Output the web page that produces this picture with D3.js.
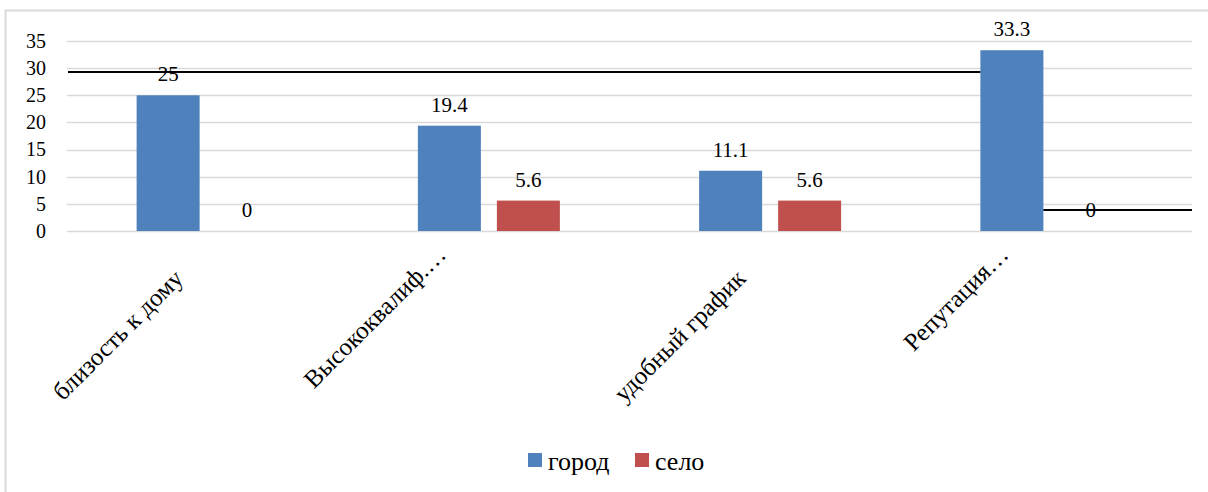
<!DOCTYPE html>
<html>
<head>
<meta charset="utf-8">
<script src="https://cdn.jsdelivr.net/npm/d3@7"></script>
<style>
  html, body { margin: 0; padding: 0; background: #fff; }
  svg { display: block; }
  svg text { font-family: "Liberation Serif", "Times New Roman", serif; fill: #000; }
</style>
</head>
<body>
<svg id="chart" width="1208" height="492"></svg>
<script>
// Categories and series values
const categories = ["близость к дому", "Высококвалиф.…", "удобный график", "Репутация…"];
const seriesNames = ["город", "село"];
const gorod = [25, 19.4, 11.1, 33.3];
const selo = [0, 5.6, 5.6, 0];
const yTicks = [0, 5, 10, 15, 20, 25, 30, 35];
const seriesColors = ["#4F81BD", "#C0504D"];

// Two stray horizontal strokes drawn across the plot (value level)
const strokeLevels = [29.3, 3.85];

const svg = d3.select("#chart");
const serif = "'Liberation Serif','Times New Roman',serif";

// outer chart frame
svg.append("rect")
  .attr("x", 5.5).attr("y", 10.5)
  .attr("width", 1220).attr("height", 500)
  .attr("fill", "#fff").attr("stroke", "#d9d9d9").attr("stroke-width", 2);

const plot = { left: 67, right: 1192, top: 41, bottom: 231 };

const y = d3.scaleLinear().domain([0, 35]).range([plot.bottom, plot.top]);
const x0 = d3.scaleBand().domain(categories).range([plot.left, plot.right]).paddingInner(0).paddingOuter(0);
const step = x0.step();
const x1 = d3.scaleBand().domain(seriesNames)
  .range([step / 2 - 71, step / 2 + 71]).paddingInner(0.2025).paddingOuter(0);

// gridlines
svg.append("g")
  .selectAll("line").data(yTicks).join("line")
  .attr("x1", plot.left).attr("x2", plot.right)
  .attr("y1", d => Math.round(y(d)) + 0.5).attr("y2", d => Math.round(y(d)) + 0.5)
  .attr("stroke", "#d9d9d9").attr("stroke-width", 1.5);

// y axis labels
const yAxis = d3.axisLeft(y).tickValues(yTicks).tickSize(0).tickPadding(0).tickFormat(d3.format("d"));
const yg = svg.append("g").attr("transform", `translate(${46},0)`).call(yAxis);
yg.attr("font-family", serif).attr("font-size", 20);
yg.select(".domain").remove();
yg.selectAll("text").attr("fill", "#000").style("font-family", serif);

// bars
const rows = categories.map((c, i) => ({ cat: c, vals: [gorod[i], selo[i]] }));
const groups = svg.append("g").selectAll("g").data(rows).join("g")
  .attr("transform", d => `translate(${x0(d.cat)},0)`);

groups.selectAll("rect").data(d => d.vals.map((v, k) => ({ v, k }))).join("rect")
  .attr("x", d => x1(seriesNames[d.k]))
  .attr("width", x1.bandwidth())
  .attr("y", d => y(d.v))
  .attr("height", d => y(0) - y(d.v))
  .attr("fill", d => seriesColors[d.k]);

// value labels
groups.selectAll("text").data(d => d.vals.map((v, k) => ({ v, k }))).join("text")
  .attr("x", d => x1(seriesNames[d.k]) + x1.bandwidth() / 2)
  .attr("y", d => y(d.v) - 14)
  .attr("text-anchor", "middle")
  .attr("font-size", 21)
  .style("font-family", serif)
  .text(d => d.v);

// stray strokes: first runs from the plot's left edge to the last "город" bar,
// second from that bar's right edge to the plot's right edge
const lastCat = categories[categories.length - 1];
const lastBarLeft = x0(lastCat) + x1(seriesNames[0]);
const strokeX = [[plot.left + 1, lastBarLeft], [lastBarLeft + x1.bandwidth(), plot.right]];
svg.append("g").selectAll("line").data(strokeLevels).join("line")
  .attr("x1", (d, i) => strokeX[i][0])
  .attr("x2", (d, i) => strokeX[i][1])
  .attr("y1", d => y(d)).attr("y2", d => y(d))
  .attr("stroke", "#000").attr("stroke-width", 2);

// category labels, rotated; truncated labels sit one line higher
svg.append("g").selectAll("text").data(categories).join("text")
  .attr("transform", d => `translate(${x0(d) + step / 2 - 23},280) rotate(-45)`)
  .attr("text-anchor", "end")
  .attr("font-size", 25)
  .style("font-family", serif)
  .attr("dx", d => d.endsWith("…") ? 4 : 0)
  .attr("dy", d => d.endsWith("…") ? -30 : 0)
  .text(d => d);

// legend
const legend = svg.append("g").attr("transform", "translate(528,453)");
const items = legend.selectAll("g").data(seriesNames).join("g")
  .attr("transform", (d, i) => `translate(${i * 107},0)`);
items.append("rect").attr("width", 14).attr("height", 14).attr("fill", (d, i) => seriesColors[i]);
items.append("text").attr("x", 20).attr("y", 17).attr("font-size", 26).style("font-family", serif).text(d => d);
</script>
</body>
</html>
